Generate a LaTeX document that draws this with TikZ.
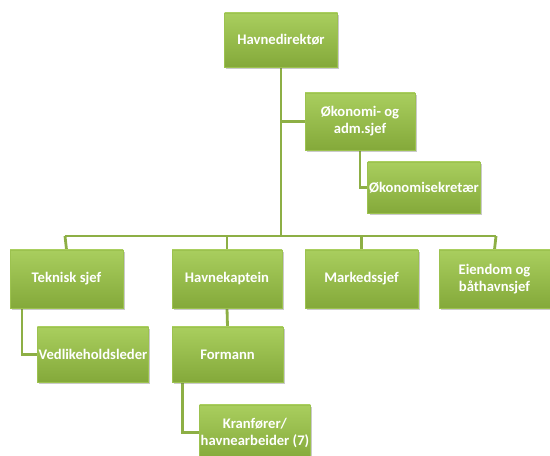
\documentclass[tikz,border=0pt]{standalone}
\usepackage{fontspec}
\setmainfont{Carlito}
\usepackage{tikz}
\usetikzlibrary{positioning,shadows,calc,backgrounds}
\definecolor{boxtop}{HTML}{A9CE5E}
\definecolor{boxbot}{HTML}{84A93A}
\definecolor{boxedge}{HTML}{9CC24F}
\definecolor{linkcol}{HTML}{8DAF45}
\tikzset{
  orgbox/.style={rectangle, top color=boxtop, bottom color=boxbot, draw=boxedge, line width=0.8pt,
    text=white, font=\fontsize{12.5}{14.5}\selectfont\bfseries, align=center, inner sep=1pt,
    drop shadow={shadow xshift=1.5pt, shadow yshift=-1.5pt, opacity=0.35, fill=black!60}},
  orgline/.style={draw=linkcol, line width=2.4pt}
}
\begin{document}
\begin{tikzpicture}[x=0.03cm, y=-0.03cm]
  \useasboundingbox (0,0) rectangle (550,456);
  \coordinate (bar) at (281,236);
  \coordinate (barL) at (65,236);
  \coordinate (barR) at (496,236);
  % boxes
  \node[orgbox, minimum width=113*0.03cm, minimum height=54*0.03cm] (dir) at (281,40) {Havnedirekt\o r};
  \node[orgbox, minimum width=110*0.03cm, minimum height=57*0.03cm] (okon) at (360,121.5) {\O konomi- og\\adm.sjef};
  \node[orgbox, minimum width=112*0.03cm, minimum height=51*0.03cm] (sekr) at (424,187.5) {\O konomisekret\ae r};
  \node[orgbox, minimum width=113*0.03cm, minimum height=58*0.03cm] (tek) at (66.5,279) {Teknisk sjef};
  \node[orgbox, minimum width=110*0.03cm, minimum height=58*0.03cm] (kap) at (227,279) {Havnekaptein};
  \node[orgbox, minimum width=113*0.03cm, minimum height=58*0.03cm] (mark) at (361.5,279) {Markedssjef};
  \node[orgbox, minimum width=111*0.03cm, minimum height=58*0.03cm] (eien) at (494.5,279) {Eiendom og\\b\aa thavnsjef};
  \node[orgbox, minimum width=110*0.03cm, minimum height=55*0.03cm] (vedl) at (93,354.5) {Vedlikeholdsleder};
  \node[orgbox, minimum width=111*0.03cm, minimum height=55*0.03cm] (form) at (227.5,354.5) {Formann};
  \node[orgbox, minimum width=110*0.03cm, minimum height=55*0.03cm] (kran) at (255,432.5) {Kranf\o rer/\\havnearbeider (7)};
  % connectors, behind the boxes
  \begin{scope}[on background layer]
    \draw[orgline] (dir.south) -- (bar);
    \draw[orgline] (barL) -- (barR);
    \draw[orgline] (barL) -- (tek.north);
    \draw[orgline] (kap.north |- bar) -- (kap.north);
    \draw[orgline] (mark.north |- bar) -- (mark.north);
    \draw[orgline] (barR) -- (eien.north);
    \draw[orgline] (dir.south |- okon.west) -- (okon.west);
    \draw[orgline] (okon.south) |- (sekr.west);
    \draw[orgline] ($(tek.south west)!0.11!(tek.south east)$) |- (vedl.west);
    \draw[orgline] (kap.south) -- (form.north);
    \draw[orgline] ($(form.south west)!0.1!(form.south east)$) |- (kran.west);
  \end{scope}
\end{tikzpicture}
\end{document}
